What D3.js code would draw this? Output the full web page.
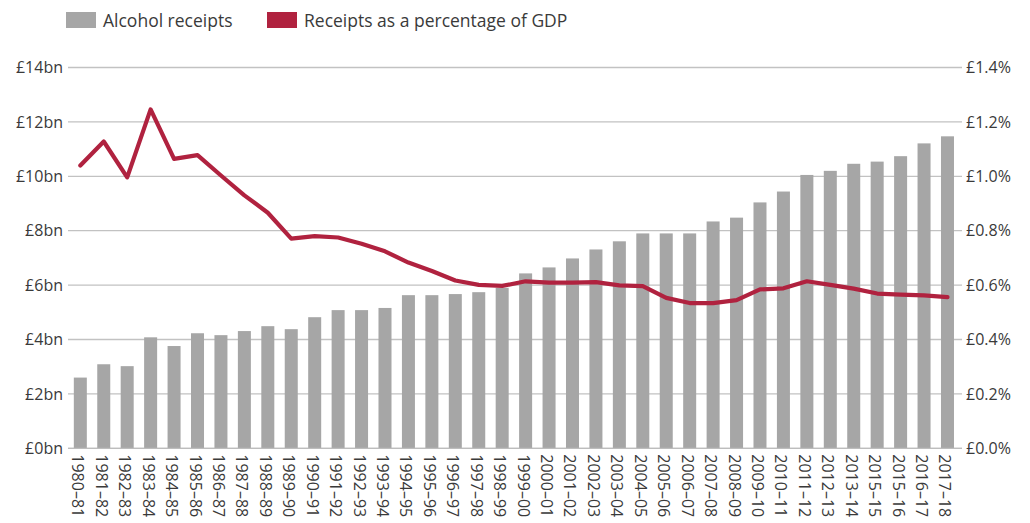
<!DOCTYPE html>
<html>
<head>
<meta charset="utf-8">
<script src="https://cdn.jsdelivr.net/npm/d3@7"></script>
<style>
  html, body { margin: 0; padding: 0; background: #fff; }
  svg { display: block; font-family: "Open Sans", "Noto Sans", sans-serif; }
</style>
</head>
<body>
<svg id="chart" width="1030" height="523"></svg>
<script>
// Financial years
const years = [
  "1980–81","1981–82","1982–83","1983–84","1984–85","1985–86","1986–87","1987–88",
  "1988–89","1989–90","1990–91","1991–92","1992–93","1993–94","1994–95","1995–96",
  "1996–97","1997–98","1998–99","1999–00","2000–01","2001–02","2002–03","2003–04",
  "2004–05","2005–06","2006–07","2007–08","2008–09","2009–10","2010–11","2011–12",
  "2012–13","2013–14","2015–15","2015–16","2016–17","2017–18"
];

// Alcohol duty receipts, £bn
const receipts = [
  2.60, 3.09, 3.02, 4.08, 3.76, 4.23, 4.16, 4.31,
  4.49, 4.38, 4.82, 5.08, 5.08, 5.16, 5.63, 5.63,
  5.67, 5.74, 5.90, 6.43, 6.65, 6.98, 7.31, 7.61,
  7.90, 7.90, 7.90, 8.34, 8.48, 9.04, 9.44, 10.05,
  10.20, 10.46, 10.54, 10.74, 11.21, 11.47
];

// Receipts as a percentage of GDP
const pctGDP = [
  1.040, 1.128, 0.996, 1.246, 1.064, 1.078, 1.003, 0.930,
  0.866, 0.771, 0.780, 0.775, 0.752, 0.724, 0.683, 0.652,
  0.617, 0.601, 0.597, 0.614, 0.609, 0.609, 0.611, 0.599,
  0.596, 0.553, 0.534, 0.534, 0.545, 0.584, 0.588, 0.614,
  0.601, 0.587, 0.569, 0.565, 0.562, 0.556
];

// Axis tick labels
const leftTicks = [0, 2, 4, 6, 8, 10, 12, 14];
const leftLabels = ["£0bn","£2bn","£4bn","£6bn","£8bn","£10bn","£12bn","£14bn"];
const rightTicks = [0, 0.2, 0.4, 0.6, 0.8, 1.0, 1.2, 1.4];
const rightLabels = ["£0.0%","£0.2%","£0.4%","£0.6%","£0.8%","£1.0%","£1.2%","£1.4%"];

const legendItems = [
  { label: "Alcohol receipts", color: "#a6a6a6" },
  { label: "Receipts as a percentage of GDP", color: "#b0223f" }
];

const svg = d3.select("#chart");
const plot = { left: 68, right: 962, top: 67.5, bottom: 448.3 };
const textColor = "#3a3a3a";
const axisFont = "16px";

const x = d3.scaleBand()
  .domain(years)
  .range([68.6, 959.2])
  .paddingInner(0.445)
  .paddingOuter(0.2225);

const yL = d3.scaleLinear().domain([0, 14]).range([plot.bottom, plot.top]);
const yR = d3.scaleLinear().domain([0, 1.4]).range([plot.bottom, plot.top]);

// Gridlines across the plot, drawn from the left axis ticks
svg.append("g")
  .selectAll("line")
  .data(leftTicks)
  .join("line")
  .attr("x1", plot.left)
  .attr("x2", plot.right)
  .attr("y1", d => yL(d))
  .attr("y2", d => yL(d))
  .attr("stroke", "#c2c2c2")
  .attr("stroke-width", 1.3);

// Left axis
const leftAxis = d3.axisLeft(yL)
  .tickValues(leftTicks)
  .tickFormat((d, i) => leftLabels[i])
  .tickSize(0)
  .tickPadding(5);
const gl = svg.append("g").attr("transform", `translate(${plot.left},0)`).call(leftAxis);
gl.select(".domain").remove();
gl.selectAll("text")
  .attr("fill", textColor)
  .style("font-size", axisFont)
  .style("font-family", "'Open Sans', sans-serif");

// Right axis
const rightAxis = d3.axisRight(yR)
  .tickValues(rightTicks)
  .tickFormat((d, i) => rightLabels[i])
  .tickSize(0)
  .tickPadding(4);
const gr = svg.append("g").attr("transform", `translate(${plot.right},0)`).call(rightAxis);
gr.select(".domain").remove();
gr.selectAll("text")
  .attr("fill", textColor)
  .style("font-size", axisFont)
  .style("font-family", "'Open Sans', sans-serif");

// Bars
svg.append("g")
  .selectAll("rect")
  .data(years)
  .join("rect")
  .attr("x", d => x(d))
  .attr("width", x.bandwidth())
  .attr("y", (d, i) => yL(receipts[i]))
  .attr("height", (d, i) => yL(0) - yL(receipts[i]))
  .attr("fill", "#a6a6a6");

// Baseline
svg.append("line")
  .attr("x1", plot.left).attr("x2", plot.right)
  .attr("y1", yL(0)).attr("y2", yL(0))
  .attr("stroke", "#bdbdbd").attr("stroke-width", 1.3);

// Bottom axis with rotated year labels
const bottomAxis = d3.axisBottom(x).tickSize(0).tickPadding(0);
const gb = svg.append("g").attr("transform", `translate(0,${plot.bottom})`).call(bottomAxis);
gb.select(".domain").remove();
gb.selectAll("text")
  .attr("fill", textColor)
  .style("font-size", axisFont)
  .style("font-family", "'Open Sans', sans-serif")
  .attr("text-anchor", "start")
  .attr("dominant-baseline", "central")
  .attr("dy", null)
  .attr("y", 0)
  .attr("transform", "translate(-2,6) rotate(90)");

// Percentage of GDP line
const line = d3.line()
  .x((d, i) => x(years[i]) + x.bandwidth() / 2)
  .y(d => yR(d));
svg.append("path")
  .datum(pctGDP)
  .attr("d", line)
  .attr("fill", "none")
  .attr("stroke", "#b0223f")
  .attr("stroke-width", 4.2)
  .attr("stroke-linejoin", "round")
  .attr("stroke-linecap", "round");

// Legend
const legendPos = [66, 267];
const lg = svg.append("g");
legendItems.forEach((item, i) => {
  const g = lg.append("g").attr("transform", `translate(${legendPos[i]},12)`);
  g.append("rect").attr("width", 30).attr("height", 16).attr("fill", item.color);
  g.append("text")
    .attr("x", 37).attr("y", 8)
    .attr("dominant-baseline", "central")
    .attr("fill", textColor)
    .style("font-size", "17.5px")
    .text(item.label);
});
</script>
</body>
</html>
